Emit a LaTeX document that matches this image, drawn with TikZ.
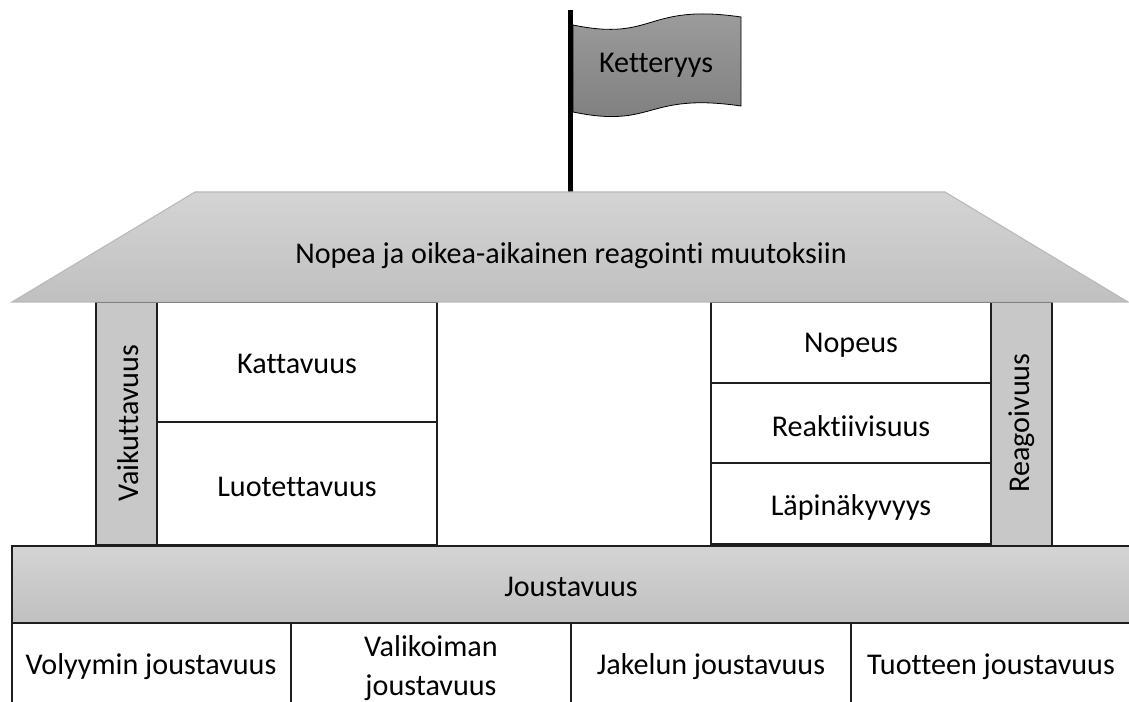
\documentclass[tikz,border=0pt]{standalone}
\usepackage{fontspec}
\setmainfont[Ligatures={NoCommon}]{Carlito}
\definecolor{boxline}{RGB}{30,30,30}
\definecolor{roofTop}{RGB}{212,212,212}
\definecolor{roofBot}{RGB}{192,192,192}
\definecolor{roofEdge}{RGB}{185,185,185}
\definecolor{pillar}{RGB}{200,200,200}
\definecolor{flagTop}{RGB}{158,158,158}
\definecolor{flagBot}{RGB}{125,125,125}
\begin{document}
\begin{tikzpicture}[x=0.75pt,y=-0.75pt,
  font=\fontsize{22.6}{29.5}\selectfont,
  box/.style={draw=boxline, line width=1.1pt, fill=white},
  pil/.style={draw=boxline, line width=0.8pt, fill=pillar},
  lbl/.style={text=black, align=center, inner sep=0pt}]
\useasboundingbox (0,0) rectangle (1129,702);
\clip (0,0) rectangle (1129,702);
% pole
\fill[black] (568,10) rectangle (573,192);
% flag
\shade[top color=flagTop, bottom color=flagBot, draw=black, line width=0.6pt]
  (573,25) .. controls (655,42) and (645,3) .. (741,17)
  -- (741,106) .. controls (645,92) and (655,129) .. (573,112) -- cycle;
% boxes
\filldraw[pil] (96,302) rectangle (157,545);
\filldraw[box] (157,302) rectangle (437,422);
\filldraw[box] (157,422) rectangle (437,545);
\filldraw[box] (711,302) rectangle (991,383);
\filldraw[box] (711,383) rectangle (991,463);
\filldraw[box] (711,463) rectangle (991,544);
\filldraw[pil] (991,302) rectangle (1052,546);
% roof
\shade[top color=roofTop, bottom color=roofBot, draw=roofEdge, line width=0.8pt]
  (195,192) -- (945,192) -- (1128,302) -- (12,302) -- cycle;
% base bar
\shade[top color=roofTop, bottom color=roofBot, draw=boxline, line width=1.1pt]
  (12,546) rectangle (1140,623);
\draw[box] (12,623) rectangle (291,710);
\draw[box] (291,623) rectangle (571,710);
\draw[box] (571,623) rectangle (851,710);
\draw[box] (851,623) rectangle (1140,710);
% texts
\node[lbl] (flagtxt) at (656,65) {Ketteryys};
\node[lbl] (rooftxt) at (571,256) {Nopea ja oikea-aikainen reagointi muutoksiin};
\node[lbl, rotate=90] (vaik) at (128,423) {Vaikuttavuus};
\node[lbl] (katt) at (297,364) {Kattavuus};
\node[lbl] (luot) at (297,487) {Luotettavuus};
\node[lbl] (nop) at (851,345) {Nopeus};
\node[lbl] (reak) at (851,426) {Reaktiivisuus};
\node[lbl] (lapi) at (851,507) {Läpinäkyvyys};
\node[lbl, rotate=90] (reag) at (1022,423) {Reagoivuus};
\node[lbl] (jous) at (571,587) {Joustavuus};
\node[lbl] (vol) at (151,667) {Volyymin joustavuus};
\node[lbl] (vali) at (431,668) {Valikoiman\\joustavuus};
\node[lbl] (jak) at (711,667) {Jakelun joustavuus};
\node[lbl] (tuot) at (991,667) {Tuotteen joustavuus};
\end{tikzpicture}
\end{document}
